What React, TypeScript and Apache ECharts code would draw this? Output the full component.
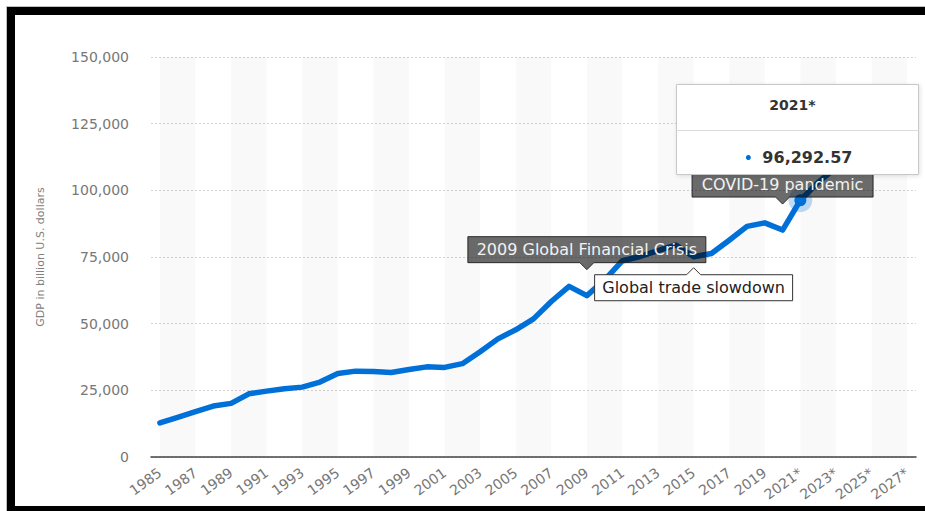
import { useEffect, useRef } from 'react';
import * as echarts from 'echarts';

const years = [
  '1985', '1986', '1987', '1988', '1989', '1990', '1991', '1992', '1993', '1994',
  '1995', '1996', '1997', '1998', '1999', '2000', '2001', '2002', '2003', '2004',
  '2005', '2006', '2007', '2008', '2009', '2010', '2011', '2012', '2013', '2014',
  '2015', '2016', '2017', '2018', '2019', '2020', '2021*', '2022*', '2023*', '2024*',
  '2025*', '2026*', '2027*',
];

const gdp = [
  12790, 14900, 17000, 19100, 20100, 23700, 24700, 25600, 26200, 28100,
  31300, 32200, 32100, 31700, 32800, 33800, 33600, 35000, 39500, 44300,
  47700, 51800, 58300, 64000, 60500, 66400, 73600, 75200, 77400, 79500,
  75100, 76300, 81300, 86500, 87800, 85100, 96292.57, 103000, 108500, 113600,
  118800, 124200, 129500,
];

const yAxisName = 'GDP in billion U.S. dollars';

const annotations = [
  { text: '2009 Global Financial Crisis', year: '2009', dark: true },
  { text: 'Global trade slowdown', year: '2015', dark: false },
  { text: 'COVID-19 pandemic', year: '2020', dark: true },
];

const tooltipYear = '2021*';

const BLUE = '#0070d9';
const FONT = '"DejaVu Sans", Verdana, sans-serif';

export default function App() {
  const ref = useRef<HTMLDivElement>(null);

  useEffect(() => {
    if (!ref.current) return;
    const chart = echarts.init(ref.current, null, { renderer: 'svg' });

    const bands: any[] = [];
    for (let i = 0; i + 2 < years.length; i += 4) {
      bands.push([{ xAxis: years[i] }, { xAxis: years[i + 2] }]);
    }
    const tipIdx = years.indexOf(tooltipYear);

    chart.setOption({
      animation: false,
      backgroundColor: '#fff',
      grid: { left: 151, right: 9, top: 57, bottom: 54, containLabel: false },
      xAxis: {
        type: 'category',
        data: years,
        boundaryGap: true,
        axisLine: { show: true, lineStyle: { color: '#444', width: 1.5 } },
        axisTick: { show: false },
        axisLabel: {
          interval: 1,
          rotate: 36,
          margin: 14,
          color: '#777',
          fontFamily: FONT,
          fontSize: 14,
        },
        splitLine: { show: false },
      },
      yAxis: {
        type: 'value',
        min: 0,
        max: 150000,
        interval: 25000,
        name: yAxisName,
        nameLocation: 'middle',
        nameRotate: 90,
        nameGap: 105,
        nameTextStyle: { color: '#808080', fontFamily: FONT, fontSize: 11 },
        axisLine: { show: false },
        axisTick: { show: false },
        axisLabel: {
          margin: 22,
          color: '#777',
          fontFamily: FONT,
          fontSize: 14,
          formatter: (v: number) => v.toLocaleString('en-US'),
        },
        splitLine: { show: true, lineStyle: { color: '#d2d2d2', type: [2, 2], width: 1 } },
      },
      series: [
        {
          type: 'line',
          data: gdp,
          showSymbol: false,
          symbol: 'none',
          lineStyle: { color: BLUE, width: 5.5, cap: 'round', join: 'round' },
          itemStyle: { color: BLUE },
          silent: true,
          markArea: {
            silent: true,
            itemStyle: { color: 'rgba(0,0,0,0.025)' },
            data: bands,
          },
          markPoint: {
            silent: true,
            label: { show: false },
            data: [
              {
                coord: [tooltipYear, gdp[tipIdx]],
                symbol: 'circle',
                symbolSize: 24,
                itemStyle: { color: 'rgba(0,112,217,0.25)' },
              },
              {
                coord: [tooltipYear, gdp[tipIdx]],
                symbol: 'circle',
                symbolSize: 12,
                itemStyle: { color: BLUE },
              },
            ],
          },
        },
      ],
    });

    const px = (year: string) => {
      const i = years.indexOf(year);
      return chart.convertToPixel({ seriesIndex: 0 }, [i, gdp[i]]) as number[];
    };

    const graphics: any[] = [];

    const widths: Record<string, number> = {
      '2009 Global Financial Crisis': 238,
      'Global trade slowdown': 198,
      'COVID-19 pandemic': 181,
    };

    annotations.forEach((a) => {
      const [x, y] = px(a.year);
      const w = widths[a.text] || 200;
      const h = 26;
      const ph = 7;
      const pw = 7;
      let pts: number[][];
      let cy: number;
      if (a.dark) {
        const tipY = y - 26;
        const y1 = tipY - ph;
        const y0 = y1 - h;
        const x0 = x - w / 2;
        const x1 = x + w / 2;
        pts = [[x0, y0], [x1, y0], [x1, y1], [x + pw, y1], [x, tipY], [x - pw, y1], [x0, y1]];
        cy = (y0 + y1) / 2;
      } else {
        const tipY = y + 11;
        const y0 = tipY + ph;
        const y1 = y0 + h;
        const x0 = x - w / 2;
        const x1 = x + w / 2;
        pts = [[x0, y0], [x - pw, y0], [x, tipY], [x + pw, y0], [x1, y0], [x1, y1], [x0, y1]];
        cy = (y0 + y1) / 2;
      }
      graphics.push({
        type: 'polygon',
        z: 90,
        silent: true,
        shape: { points: pts },
        style: a.dark
          ? { fill: 'rgba(0,0,0,0.58)', stroke: 'rgba(30,30,30,0.9)', lineWidth: 1 }
          : { fill: '#fff', stroke: '#333', lineWidth: 1 },
      });
      graphics.push({
        type: 'text',
        z: 91,
        silent: true,
        x: x,
        y: cy,
        style: {
          text: a.text,
          fill: a.dark ? '#f2f2f2' : '#222',
          font: `16px ${FONT}`,
          align: 'center',
          verticalAlign: 'middle',
        },
      });
    });

    // tooltip box
    {
      const [x, y] = px(tooltipYear);
      const bx = Math.round(x - 124) + 0.5;
      const by = Math.round(y - 116) + 0.5;
      const bw = 242;
      const bh = 90;
      graphics.push({
        type: 'rect',
        z: 100,
        silent: true,
        shape: { x: bx, y: by, width: bw, height: bh },
        style: {
          fill: '#fff',
          stroke: '#c8c8c8',
          lineWidth: 1,
          shadowBlur: 4,
          shadowColor: 'rgba(0,0,0,0.12)',
          shadowOffsetX: 1,
          shadowOffsetY: 1,
        },
      });
      graphics.push({
        type: 'line',
        z: 101,
        silent: true,
        shape: { x1: bx, y1: by + 46, x2: bx + bw, y2: by + 46 },
        style: { stroke: '#dcdcdc', lineWidth: 1 },
      });
      graphics.push({
        type: 'text',
        z: 102,
        silent: true,
        x: bx + bw / 2 - 5,
        y: by + 20,
        style: {
          text: tooltipYear,
          fill: '#333',
          font: `bold 14px ${FONT}`,
          align: 'center',
          verticalAlign: 'middle',
        },
      });
      graphics.push({
        type: 'circle',
        z: 102,
        silent: true,
        shape: { cx: x - 52, cy: by + 73, r: 2.5 },
        style: { fill: BLUE },
      });
      graphics.push({
        type: 'text',
        z: 102,
        silent: true,
        x: x - 38,
        y: by + 73,
        style: {
          text: gdp[tipIdx].toLocaleString('en-US', { minimumFractionDigits: 2, maximumFractionDigits: 2 }),
          fill: '#333',
          font: `bold 16px ${FONT}`,
          align: 'left',
          verticalAlign: 'middle',
        },
      });
    }

    // frame
    graphics.push({
      type: 'rect',
      z: 200,
      silent: true,
      shape: { x: 6.5, y: 6.5, width: 940, height: 520 },
      style: { fill: 'none', stroke: '#c0c0c0', lineWidth: 1 },
    });
    graphics.push({
      type: 'rect',
      z: 201,
      silent: true,
      shape: { x: 11, y: 11, width: 940, height: 499 },
      style: { fill: 'none', stroke: '#000', lineWidth: 8 },
    });

    chart.setOption({ graphic: graphics });

    return () => {
      chart.dispose();
    };
  }, []);

  return (
    <div
      ref={ref}
      style={{ position: 'fixed', left: 0, top: 0, width: 925, height: 511, background: '#fff' }}
    />
  );
}
